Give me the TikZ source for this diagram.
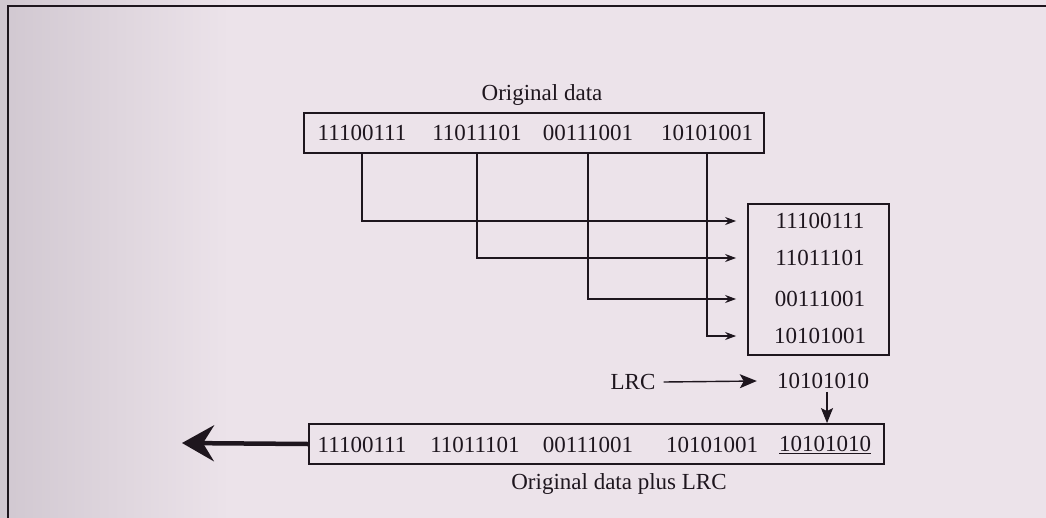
\documentclass[tikz,border=0pt]{standalone}
\usepackage{fontspec}
\setmainfont{Liberation Serif}
\usetikzlibrary{arrows.meta}
\definecolor{paper}{RGB}{236,227,234}
\definecolor{paperdark}{RGB}{208,199,208}
\definecolor{ink}{RGB}{30,22,30}
\begin{document}
\begin{tikzpicture}[x=1pt,y=-1pt,
  font=\fontsize{23}{27}\selectfont,
  every node/.style={text=ink, inner sep=0pt},
  box/.style={draw=ink, line width=1.8pt},
  conn/.style={draw=ink, line width=1.4pt, shorten >=11pt, -{Stealth[length=11pt,width=8pt]}},
  lrcarrow/.style={draw=ink, line width=1.4pt, -{Stealth[length=17pt,width=14pt,inset=4pt]}},
  downarrow/.style={draw=ink, line width=1.4pt, -{Stealth[length=15pt,width=12pt,inset=3pt]}},
  bigarrow/.style={draw=ink, line width=4.5pt, -{Stealth[length=32pt,width=36pt,inset=11pt]}}]
\useasboundingbox (0,0) rectangle (1046,517);
\fill[paper] (-5,-5) rectangle (1051,522);
\shade[left color=paperdark, right color=paper] (-5,-5) rectangle (230,522);
\draw[ink, line width=1.2pt] (8,520) -- (8,6) -- (1050,6);

% top: original data
\node (title) at (542,95) {Original data};
\node[box, minimum width=460pt, minimum height=40pt] (top) at (534,133) {};
\node (b1) at (362,133) {11100111};
\node (b2) at (477,133) {11011101};
\node (b3) at (588,133) {00111001};
\node (b4) at (707,133) {10101001};

% right box
\node[box, minimum width=141pt, minimum height=151pt] (rbox) at (818.5,279.5) {};
\node (r1) at (820,221) {11100111};
\node (r2) at (820,258) {11011101};
\node (r3) at (820,299) {00111001};
\node (r4) at (820,336) {10101001};

\draw[conn] (b1 |- top.south) |- (rbox.west |- r1);
\draw[conn] (b2 |- top.south) |- (rbox.west |- r2);
\draw[conn] (b3 |- top.south) |- (rbox.west |- r3);
\draw[conn] (b4 |- top.south) |- (rbox.west |- r4);

% LRC
\node (lrc) at (633,382) {LRC};
\node (lrcv) at (823,381) {10101010};
\draw[lrcarrow] ([xshift=8pt]lrc.east) -- ([xshift=-20pt]lrcv.west);

% bottom box
\node[box, minimum width=575pt, minimum height=40pt] (bot) at (596.5,444) {};
\node (c1) at (362,445) {11100111};
\node (c2) at (475,445) {11011101};
\node (c3) at (588,445) {00111001};
\node (c4) at (712,445) {10101001};
\node (c5) at (825,445) {\underline{10101010}};
\draw[downarrow] ([xshift=4pt,yshift=-3pt]lrcv.south) -- ([xshift=4pt]lrcv.south |- bot.north);

\coordinate (out) at (182,443);
\draw[bigarrow] (bot.west) -- (out);

\node (cap) at (619,484) {Original data plus LRC};
\end{tikzpicture}
\end{document}
